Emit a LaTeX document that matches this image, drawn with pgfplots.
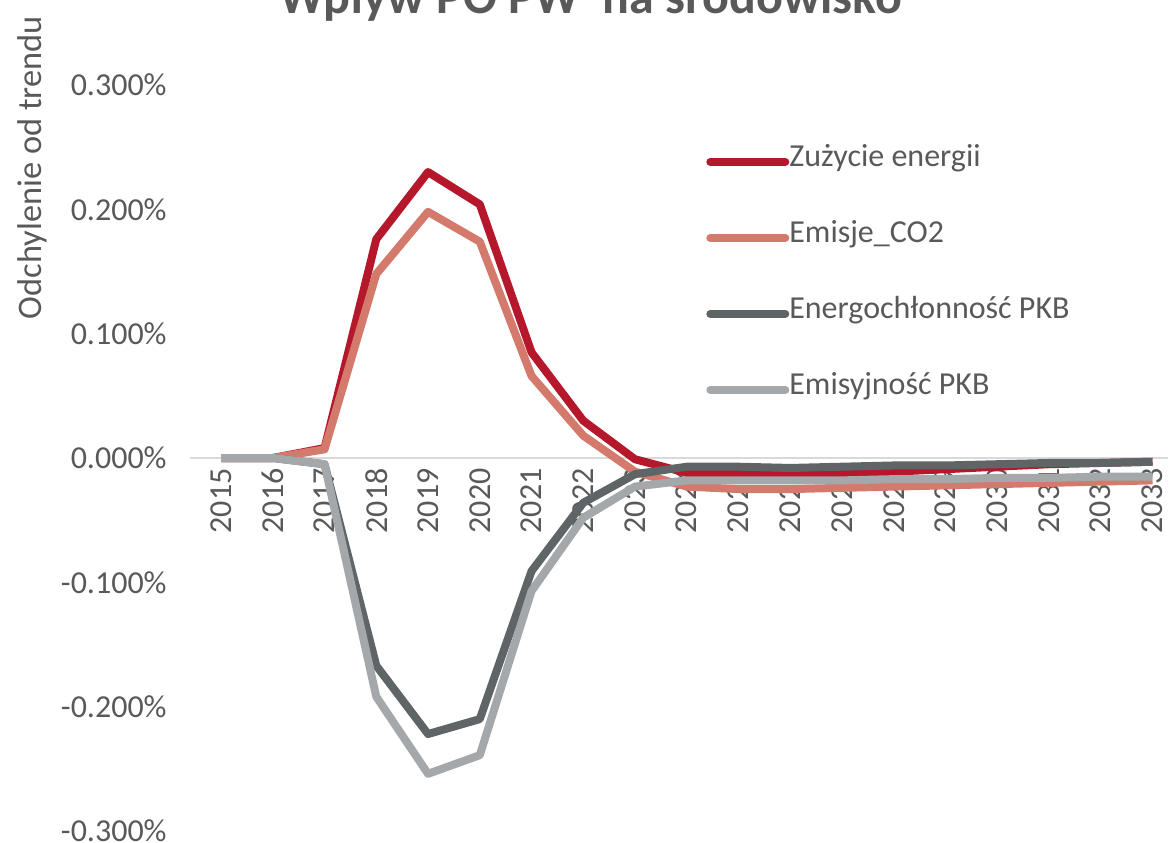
\documentclass[border=0pt]{standalone}
\usepackage{fontspec}
\setmainfont{Carlito}
\usepackage{pgfplots}
\pgfplotsset{compat=1.18}
\definecolor{cRed}{HTML}{B5182B}
\definecolor{cSalmon}{HTML}{D47A6D}
\definecolor{cDark}{HTML}{5F6467}
\definecolor{cLight}{HTML}{A5A8AB}
\definecolor{cText}{HTML}{595959}
\definecolor{cZero}{HTML}{D9D9D9}
\begin{document}
\begin{tikzpicture}
\begin{axis}[
  scale only axis,
  width=489pt, height=373pt,
  xmin=2014.4, xmax=2033.3,
  ymin=-0.3, ymax=0.3,
  axis line style={draw=none},
  major tick length=0pt,
  xtick={2015,...,2033},
  xticklabels={2015,2016,2017,2018,2019,2020,2021,2022,2023,2024,2025,2026,2027,2028,2029,2030,2031,2032,2033},
  xticklabel style={rotate=90, anchor=east, inner sep=0pt, xshift=181.5pt, font=\fontsize{16}{19}\selectfont, text=cText},
  ytick={-0.3,-0.2,-0.1,0,0.1,0.2,0.3},
  yticklabels={-0.300\%,-0.200\%,-0.100\%,0.000\%,0.100\%,0.200\%,0.300\%},
  yticklabel style={anchor=east, inner sep=0pt, xshift=-11.5pt, font=\fontsize{16}{19}\selectfont, text=cText},
  title={Wpływ PO PW\ \ na środowisko},
  title style={at={(axis description cs:0.41,1.0804)}, anchor=base, font=\bfseries\fontsize{25}{29}\selectfont, text=cText},
  ylabel={Odchylenie od trendu},
  ylabel style={at={(axis description cs:-0.1616,0.889)}, anchor=center, font=\fontsize{17.2}{20}\selectfont, text=cText},
  legend style={at={(axis cs:2024.37,0.1465)}, anchor=west, draw=none, fill=none,
    font=\fontsize{16}{19}\selectfont, text=cText, row sep=28pt, inner sep=0pt,
    nodes={inner sep=0pt, text height=0.75em, text depth=0.25em}},
  legend cell align=left,
  legend image code/.code={\draw[#1, line cap=round] (0pt,0pt) -- (37.5pt,0pt);},
  every axis plot/.append style={line width=4pt, line join=round, mark=none},
]
\draw[cZero, line width=1.2pt] (rel axis cs:0,0.5) -- (rel axis cs:1,0.5);
\addplot[cRed] coordinates {
(2015,0) (2016,0) (2017,0.008) (2018,0.176) (2019,0.230) (2020,0.204) (2021,0.085) (2022,0.030)
(2023,-0.001) (2024,-0.012) (2025,-0.013) (2026,-0.014) (2027,-0.013) (2028,-0.011) (2029,-0.009)
(2030,-0.007) (2031,-0.005) (2032,-0.004) (2033,-0.003)};
\addlegendentry{Zużycie energii}
\addplot[cSalmon] coordinates {
(2015,0) (2016,0) (2017,0.007) (2018,0.148) (2019,0.198) (2020,0.174) (2021,0.066) (2022,0.018)
(2023,-0.011) (2024,-0.023) (2025,-0.025) (2026,-0.025) (2027,-0.024) (2028,-0.023) (2029,-0.022)
(2030,-0.021) (2031,-0.020) (2032,-0.019) (2033,-0.018)};
\addlegendentry{Emisje\_CO2}
\addplot[cDark] coordinates {
(2015,0) (2016,0) (2017,-0.005) (2018,-0.167) (2019,-0.222) (2020,-0.210) (2021,-0.091) (2022,-0.036)
(2023,-0.013) (2024,-0.007) (2025,-0.007) (2026,-0.008) (2027,-0.007) (2028,-0.006) (2029,-0.006)
(2030,-0.005) (2031,-0.004) (2032,-0.004) (2033,-0.003)};
\addlegendentry{Energochłonność PKB}
\addplot[cLight] coordinates {
(2015,0) (2016,0) (2017,-0.005) (2018,-0.192) (2019,-0.254) (2020,-0.239) (2021,-0.107) (2022,-0.048)
(2023,-0.023) (2024,-0.018) (2025,-0.018) (2026,-0.018) (2027,-0.018) (2028,-0.017) (2029,-0.017)
(2030,-0.016) (2031,-0.016) (2032,-0.015) (2033,-0.015)};
\addlegendentry{Emisyjność PKB}
\coordinate (BL) at (rel axis cs:0,0);
\end{axis}
\pgfresetboundingbox
\path[use as bounding box] ([shift={(-95pt,-5.5pt)}]BL) rectangle ([shift={(490.5pt,415.5pt)}]BL);
\end{tikzpicture}
\end{document}
